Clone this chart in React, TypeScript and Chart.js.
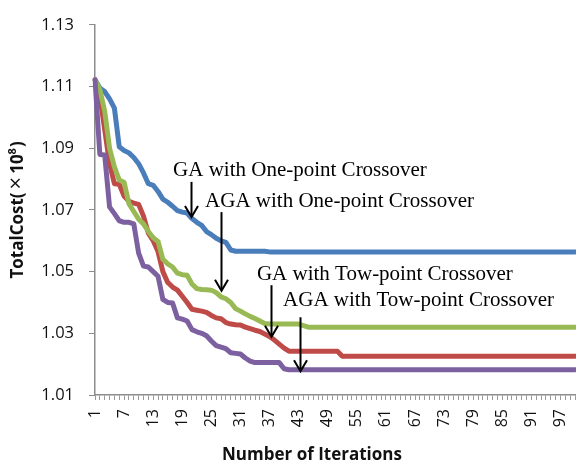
import React, { useEffect, useRef } from "react";
import { Chart, registerables } from "chart.js";

Chart.register(...registerables);

// ---- data ----
const iterations: string[] = Array.from({ length: 100 }, (_, i) => String(i + 1));
const shownTickLabels = ["1", "7", "13", "19", "25", "31", "37", "43", "49", "55", "61", "67", "73", "79", "85", "91", "97"];

const gaOnePoint = [
  1.1122, 1.1095, 1.1084, 1.106, 1.103, 1.0905, 1.0893, 1.0885, 1.087, 1.085,
  1.082, 1.0785, 1.078, 1.076, 1.0735, 1.0725, 1.0712, 1.0698, 1.0693, 1.069,
  1.0672, 1.066, 1.065, 1.063, 1.062, 1.0608, 1.06, 1.0595, 1.057, 1.0566,
  1.0566, 1.0566, 1.0566, 1.0566, 1.0566, 1.0566, 1.0564, 1.0564, 1.0564, 1.0564,
  1.0564, 1.0564, 1.0564, 1.0564, 1.0564, 1.0564, 1.0564, 1.0564, 1.0564, 1.0564,
  1.0564, 1.0564, 1.0564, 1.0564, 1.0564, 1.0564, 1.0564, 1.0564, 1.0564, 1.0564,
  1.0564, 1.0564, 1.0564, 1.0564, 1.0564, 1.0564, 1.0564, 1.0564, 1.0564, 1.0564,
  1.0564, 1.0564, 1.0564, 1.0564, 1.0564, 1.0564, 1.0564, 1.0564, 1.0564, 1.0564,
  1.0564, 1.0564, 1.0564, 1.0564, 1.0564, 1.0564, 1.0564, 1.0564, 1.0564, 1.0564,
  1.0564, 1.0564, 1.0564, 1.0564, 1.0564, 1.0564, 1.0564, 1.0564, 1.0564, 1.0564,
];

const agaOnePoint = [
  1.1122, 1.107, 1.096, 1.085, 1.0785, 1.0783, 1.0745, 1.0728, 1.0722, 1.0718,
  1.068, 1.0625, 1.06, 1.0565, 1.05, 1.0465, 1.045, 1.044, 1.042, 1.04,
  1.0378, 1.0375, 1.0372, 1.0368, 1.0358, 1.035, 1.0347, 1.0335, 1.033, 1.0328,
  1.0327, 1.032, 1.0315, 1.031, 1.0306, 1.0298, 1.029, 1.0278, 1.0265, 1.0252,
  1.0242, 1.0242, 1.0242, 1.0242, 1.0242, 1.0242, 1.0242, 1.0242, 1.0242, 1.0242,
  1.0242, 1.0226, 1.0226, 1.0226, 1.0226, 1.0226, 1.0226, 1.0226, 1.0226, 1.0226,
  1.0226, 1.0226, 1.0226, 1.0226, 1.0226, 1.0226, 1.0226, 1.0226, 1.0226, 1.0226,
  1.0226, 1.0226, 1.0226, 1.0226, 1.0226, 1.0226, 1.0226, 1.0226, 1.0226, 1.0226,
  1.0226, 1.0226, 1.0226, 1.0226, 1.0226, 1.0226, 1.0226, 1.0226, 1.0226, 1.0226,
  1.0226, 1.0226, 1.0226, 1.0226, 1.0226, 1.0226, 1.0226, 1.0226, 1.0226, 1.0226,
];

const gaTwoPoint = [
  1.1122, 1.109, 1.102, 1.09, 1.084, 1.0797, 1.079, 1.072, 1.0695, 1.067,
  1.0655, 1.063, 1.061, 1.0598, 1.054, 1.0525, 1.0515, 1.0495, 1.049, 1.0488,
  1.046, 1.0445, 1.0442, 1.0441, 1.044, 1.0432, 1.0418, 1.0412, 1.04, 1.038,
  1.0372, 1.0363, 1.0355, 1.0348, 1.034, 1.0332, 1.033, 1.033, 1.033, 1.033,
  1.033, 1.033, 1.033, 1.0325, 1.032, 1.032, 1.032, 1.032, 1.032, 1.032,
  1.032, 1.032, 1.032, 1.032, 1.032, 1.032, 1.032, 1.032, 1.032, 1.032,
  1.032, 1.032, 1.032, 1.032, 1.032, 1.032, 1.032, 1.032, 1.032, 1.032,
  1.032, 1.032, 1.032, 1.032, 1.032, 1.032, 1.032, 1.032, 1.032, 1.032,
  1.032, 1.032, 1.032, 1.032, 1.032, 1.032, 1.032, 1.032, 1.032, 1.032,
  1.032, 1.032, 1.032, 1.032, 1.032, 1.032, 1.032, 1.032, 1.032, 1.032,
];

const agaTwoPoint = [
  1.1122, 1.088, 1.0878, 1.071, 1.0688, 1.0665, 1.066, 1.066, 1.0655, 1.056,
  1.0518, 1.0515, 1.05, 1.0485, 1.041, 1.04, 1.0398, 1.035, 1.0346, 1.034,
  1.0312, 1.0305, 1.03, 1.0292, 1.0275, 1.026, 1.0255, 1.025, 1.0237, 1.0235,
  1.0233, 1.022, 1.021, 1.0205, 1.0205, 1.0205, 1.0205, 1.0205, 1.0205, 1.0185,
  1.0182, 1.0182, 1.0182, 1.0182, 1.0182, 1.0182, 1.0182, 1.0182, 1.0182, 1.0182,
  1.0182, 1.0182, 1.0182, 1.0182, 1.0182, 1.0182, 1.0182, 1.0182, 1.0182, 1.0182,
  1.0182, 1.0182, 1.0182, 1.0182, 1.0182, 1.0182, 1.0182, 1.0182, 1.0182, 1.0182,
  1.0182, 1.0182, 1.0182, 1.0182, 1.0182, 1.0182, 1.0182, 1.0182, 1.0182, 1.0182,
  1.0182, 1.0182, 1.0182, 1.0182, 1.0182, 1.0182, 1.0182, 1.0182, 1.0182, 1.0182,
  1.0182, 1.0182, 1.0182, 1.0182, 1.0182, 1.0182, 1.0182, 1.0182, 1.0182, 1.0182,
];

const seriesNames = [
  "GA with One-point Crossover",
  "AGA with One-point Crossover",
  "GA with Tow-point Crossover",
  "AGA with Tow-point Crossover",
];

const yMin = 1.01;
const yMax = 1.13;
const yStep = 0.02;

const xTitle = "Number of Iterations";
// y title pieces: "TotalCost(×10⁸)"
const yTitleMain = "TotalCost(";
const yTitleTimes = "×";
const yTitleBase = "10";
const yTitleExp = "8";
const yTitleClose = ")";

// annotation anchors in data coordinates (iteration, value)
const annotationTextIter = [17.1, 23.7, 34.4, 39.8];
const annotationTextValue = [1.081, 1.0709, 1.0472, 1.039];
const arrowIter = [20.8, 27.0, 37.3, 43.3];
const arrowFromValue = [1.0791, 1.0693, 1.0456, 1.0352];
const arrowToValue = [1.0677, 1.0438, 1.0289, 1.0177];

const colors = ["#4A7EBB", "#BE4B48", "#98B954", "#7D60A0"];

const boldFont = (px: number) => `bold ${px}px "Open Sans", "Noto Sans", sans-serif`;

const overlayPlugin = {
  id: "overlay",
  afterDraw(chart: any) {
    const ctx = chart.ctx as CanvasRenderingContext2D;
    const xs = chart.scales.x;
    const ys = chart.scales.y;
    const area = chart.chartArea;
    ctx.save();
    // annotations
    ctx.fillStyle = "#000";
    ctx.strokeStyle = "#000";
    ctx.font = '21px "Liberation Serif", "Times New Roman", serif';
    ctx.textAlign = "left";
    ctx.textBaseline = "alphabetic";
    for (let i = 0; i < seriesNames.length; i++) {
      const tx = xs.getPixelForValue(annotationTextIter[i] - 1);
      const ty = ys.getPixelForValue(annotationTextValue[i]);
      ctx.fillText(seriesNames[i], tx, ty);
      const ax = Math.round(xs.getPixelForValue(arrowIter[i] - 1)) + 0.5;
      const a0 = ys.getPixelForValue(arrowFromValue[i]);
      const a1 = ys.getPixelForValue(arrowToValue[i]);
      ctx.lineWidth = 2;
      ctx.beginPath();
      ctx.moveTo(ax, a0);
      ctx.lineTo(ax, a1 - 1);
      ctx.stroke();
      ctx.beginPath();
      ctx.moveTo(ax - 6.5, a1 - 11);
      ctx.lineTo(ax, a1);
      ctx.lineTo(ax + 6.5, a1 - 11);
      ctx.stroke();
    }
    // x axis title
    ctx.fillStyle = "#111";
    ctx.font = boldFont(17);
    ctx.textAlign = "center";
    ctx.textBaseline = "alphabetic";
    ctx.fillText(xTitle, area.left + (area.right - area.left) * 0.452, 460);

    // y axis title, drawn in pieces (rotated)
    ctx.save();
    ctx.translate(23, (area.top + area.bottom) / 2);
    ctx.rotate(-Math.PI / 2);
    ctx.textAlign = "left";
    const timesFont = '22px "Open Sans", "Noto Sans", sans-serif';
    ctx.font = boldFont(17);
    const w1 = ctx.measureText(yTitleMain).width;
    const w3 = ctx.measureText(yTitleBase).width;
    const w5 = ctx.measureText(yTitleClose).width;
    ctx.font = timesFont;
    const w2 = ctx.measureText(yTitleTimes).width;
    ctx.font = boldFont(11);
    const w4 = ctx.measureText(yTitleExp).width;
    const gap = 3;
    const total = w1 + gap + w2 + gap + w3 + w4 + 1 + w5;
    let x = -total / 2;
    ctx.font = boldFont(17);
    ctx.fillText(yTitleMain, x, 0);
    x += w1 + gap;
    ctx.font = timesFont;
    ctx.fillText(yTitleTimes, x, 0);
    x += w2 + gap;
    ctx.font = boldFont(17);
    ctx.fillText(yTitleBase, x, 0);
    x += w3;
    ctx.font = boldFont(11);
    ctx.fillText(yTitleExp, x, -7);
    x += w4 + 1;
    ctx.font = boldFont(17);
    ctx.fillText(yTitleClose, x, 0);
    ctx.restore();
    ctx.restore();
  },
};

export default function App() {
  const canvasRef = useRef<HTMLCanvasElement | null>(null);

  useEffect(() => {
    const canvas = canvasRef.current;
    if (!canvas) return;
    const allSeries = [gaOnePoint, agaOnePoint, gaTwoPoint, agaTwoPoint];
    const chart = new Chart(canvas, {
      type: "line",
      data: {
        labels: iterations,
        datasets: allSeries.map((d, i) => ({
          label: seriesNames[i],
          data: d,
          borderColor: colors[i],
          backgroundColor: colors[i],
          borderWidth: 5,
          pointRadius: 0,
          tension: 0,
          fill: false,
          borderJoinStyle: "round" as const,
          borderCapStyle: "round" as const,
          order: 4 - i,
        })),
      },
      options: {
        responsive: false,
        animation: false,
        devicePixelRatio: 1,
        layout: { padding: { top: 14, right: 1, bottom: 0, left: 0 } },
        plugins: {
          legend: { display: false },
          tooltip: { enabled: false },
          title: { display: false },
        },
        scales: {
          x: {
            type: "category",
            offset: false,
            grid: {
              display: true,
              drawOnChartArea: false,
              drawTicks: true,
              tickLength: 5,
              color: "#9a9a9a",
              tickColor: "#9a9a9a",
            },
            border: { display: true, color: "#8c8c8c", width: 1.5 },
            ticks: {
              autoSkip: false,
              minRotation: 90,
              maxRotation: 90,
              padding: 9,
              color: "#111",
              font: { family: '"Open Sans", "Noto Sans", sans-serif', size: 16 },
              callback: function (this: any, value: any) {
                const lbl = this.getLabelForValue(value);
                return shownTickLabels.includes(lbl) ? lbl : "";
              },
            },
            afterFit: (scale: any) => {
              scale.height = 72;
              scale.paddingLeft = 0;
              scale.paddingRight = 0;
            },
          },
          y: {
            min: yMin,
            max: yMax,
            grid: {
              display: true,
              drawOnChartArea: false,
              drawTicks: true,
              tickLength: 6,
              color: "#8c8c8c",
              tickColor: "#8c8c8c",
            },
            border: { display: true, color: "#8c8c8c", width: 1.5 },
            ticks: {
              stepSize: yStep,
              padding: 15,
              color: "#111",
              font: { family: '"Open Sans", "Noto Sans", sans-serif', size: 16.5 },
              callback: (v: any) => Number(v).toFixed(2),
            },
            afterFit: (scale: any) => {
              scale.width = 95;
            },
          },
        },
      },
      plugins: [overlayPlugin],
    });
    return () => chart.destroy();
  }, []);

  return (
    <div style={{ position: "fixed", left: 0, top: 0, width: 576, height: 467, background: "#fff" }}>
      <canvas ref={canvasRef} width={576} height={467} style={{ display: "block" }} />
    </div>
  );
}
